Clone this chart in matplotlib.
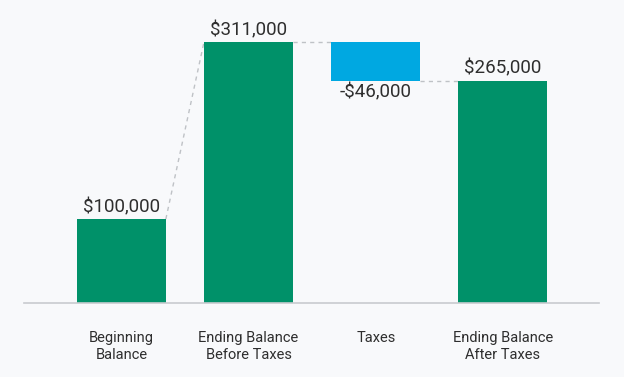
import numpy as np
import matplotlib.pyplot as plt

categories = ['Beginning\nBalance', 'Ending Balance\nBefore Taxes', 'Taxes', 'Ending Balance\nAfter Taxes']
starts = [0, 0, 311000, 0]
ends = [100000, 311000, 265000, 265000]
labels = ['$100,000', '$311,000', '-$46,000', '$265,000']

green = '#009169'
blue = '#00A8E1'
bg = '#F8F9FB'

plt.rcParams['font.family'] = ['Roboto', 'DejaVu Sans']

fig = plt.figure(figsize=(6.24, 3.77), dpi=100, facecolor=bg)
ax = fig.add_axes([24 / 624, 74 / 377, 575 / 624, 303 / 377])
ax.set_facecolor(bg)

x = np.arange(len(categories))
w = 0.7
bottoms = [min(s, e) for s, e in zip(starts, ends)]
heights = [abs(e - s) for s, e in zip(starts, ends)]
colors = [green, green, blue, green]
ax.bar(x, heights, bottom=bottoms, width=w, color=colors, zorder=2)

# connectors
for i in range(len(x) - 1):
    ax.plot([x[i] + w / 2, x[i + 1] - w / 2], [ends[i], starts[i + 1] if starts[i + 1] else ends[i + 1]],
            ls=(0, (3, 3)), color='#BFC2C6', lw=1, zorder=1)

for i in range(len(x)):
    if ends[i] >= starts[i]:
        ax.text(x[i], ends[i] + 3500, labels[i], ha='center', va='bottom', fontsize=13.5, color='#2E2E2E')
    else:
        ax.text(x[i], ends[i] - 3500, labels[i], ha='center', va='top', fontsize=13.5, color='#2E2E2E')

ax.set_xlim(-0.765, 3.755)
ax.set_ylim(0, 361000)
ax.set_xticks(x)
ax.set_xticklabels(categories, fontsize=10.5, color='#2E2E2E', linespacing=1.3)
ax.tick_params(axis='x', length=0, pad=20)
ax.set_yticks([])
for s in ['top', 'right', 'left']:
    ax.spines[s].set_visible(False)
ax.spines['bottom'].set_color('#C8CBCF')
ax.spines['bottom'].set_linewidth(1.2)

plt.savefig('out.png', dpi=100, facecolor=bg)
